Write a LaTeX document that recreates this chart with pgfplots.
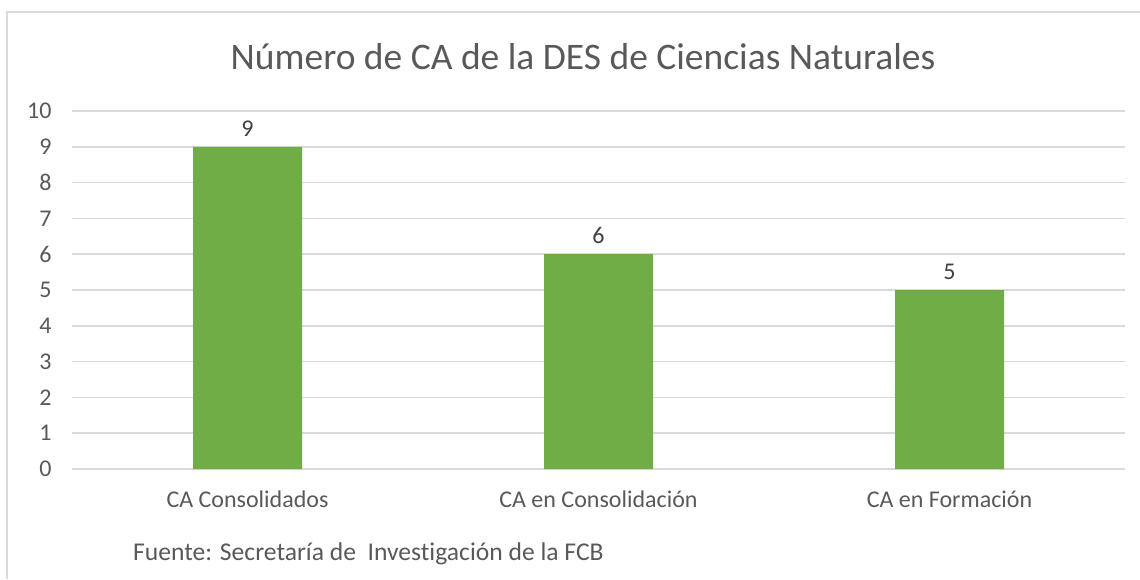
\documentclass[border=0pt]{standalone}
\usepackage{fontspec}
\setmainfont{Carlito}[Ligatures=NoCommon]
\usepackage{pgfplots}
\pgfplotsset{compat=1.18}
\definecolor{barGreen}{HTML}{70AD47}
\definecolor{gridGray}{HTML}{D9D9D9}
\definecolor{txtGray}{HTML}{595959}
\definecolor{lblGray}{HTML}{404040}
\begin{document}
\begin{tikzpicture}[x=1pt,y=1pt]
\useasboundingbox (0,0) rectangle (1140,579);
% frame (only top and left edges visible)
\draw[gridGray, line width=1.5pt] (7,0) -- (7,567) -- (1140,567);
\begin{axis}[
  at={(72pt,110pt)}, anchor=south west,
  scale only axis,
  width=1053pt, height=358pt,
  ybar, bar width=109pt,
  xmin=-0.5, xmax=2.5,
  ymin=0, ymax=10,
  ytick={0,1,...,10},
  xtick={0,1,2},
  xticklabels={CA Consolidados, CA en Consolidación, CA en Formación},
  ymajorgrids=true,
  major grid style={draw=gridGray, line width=1.5pt},
  axis line style={draw=none},
  major tick length=0pt,
  tick label style={font=\fontsize{24}{28}\selectfont, text=txtGray},
  yticklabel style={xshift=-17pt},
  xticklabel style={yshift=-18pt},
  /pgf/number format/assume math mode=true,
  nodes near coords,
  every node near coord/.append style={font=\fontsize{24}{28}\selectfont, text=lblGray, yshift=7pt},
]
\addplot[fill=barGreen, draw=none] coordinates {(0,9) (1,6) (2,5)};
\end{axis}
\node[font=\fontsize{37.5}{44}\selectfont, text=txtGray] at (583,522) {Número de CA de la DES de Ciencias Naturales};
\node[font=\fontsize{25.6}{30}\selectfont, text=txtGray, anchor=west, inner sep=0pt] at (133,25) {Fuente: Secretaría de\ \ Investigación de la FCB};
\end{tikzpicture}
\end{document}
